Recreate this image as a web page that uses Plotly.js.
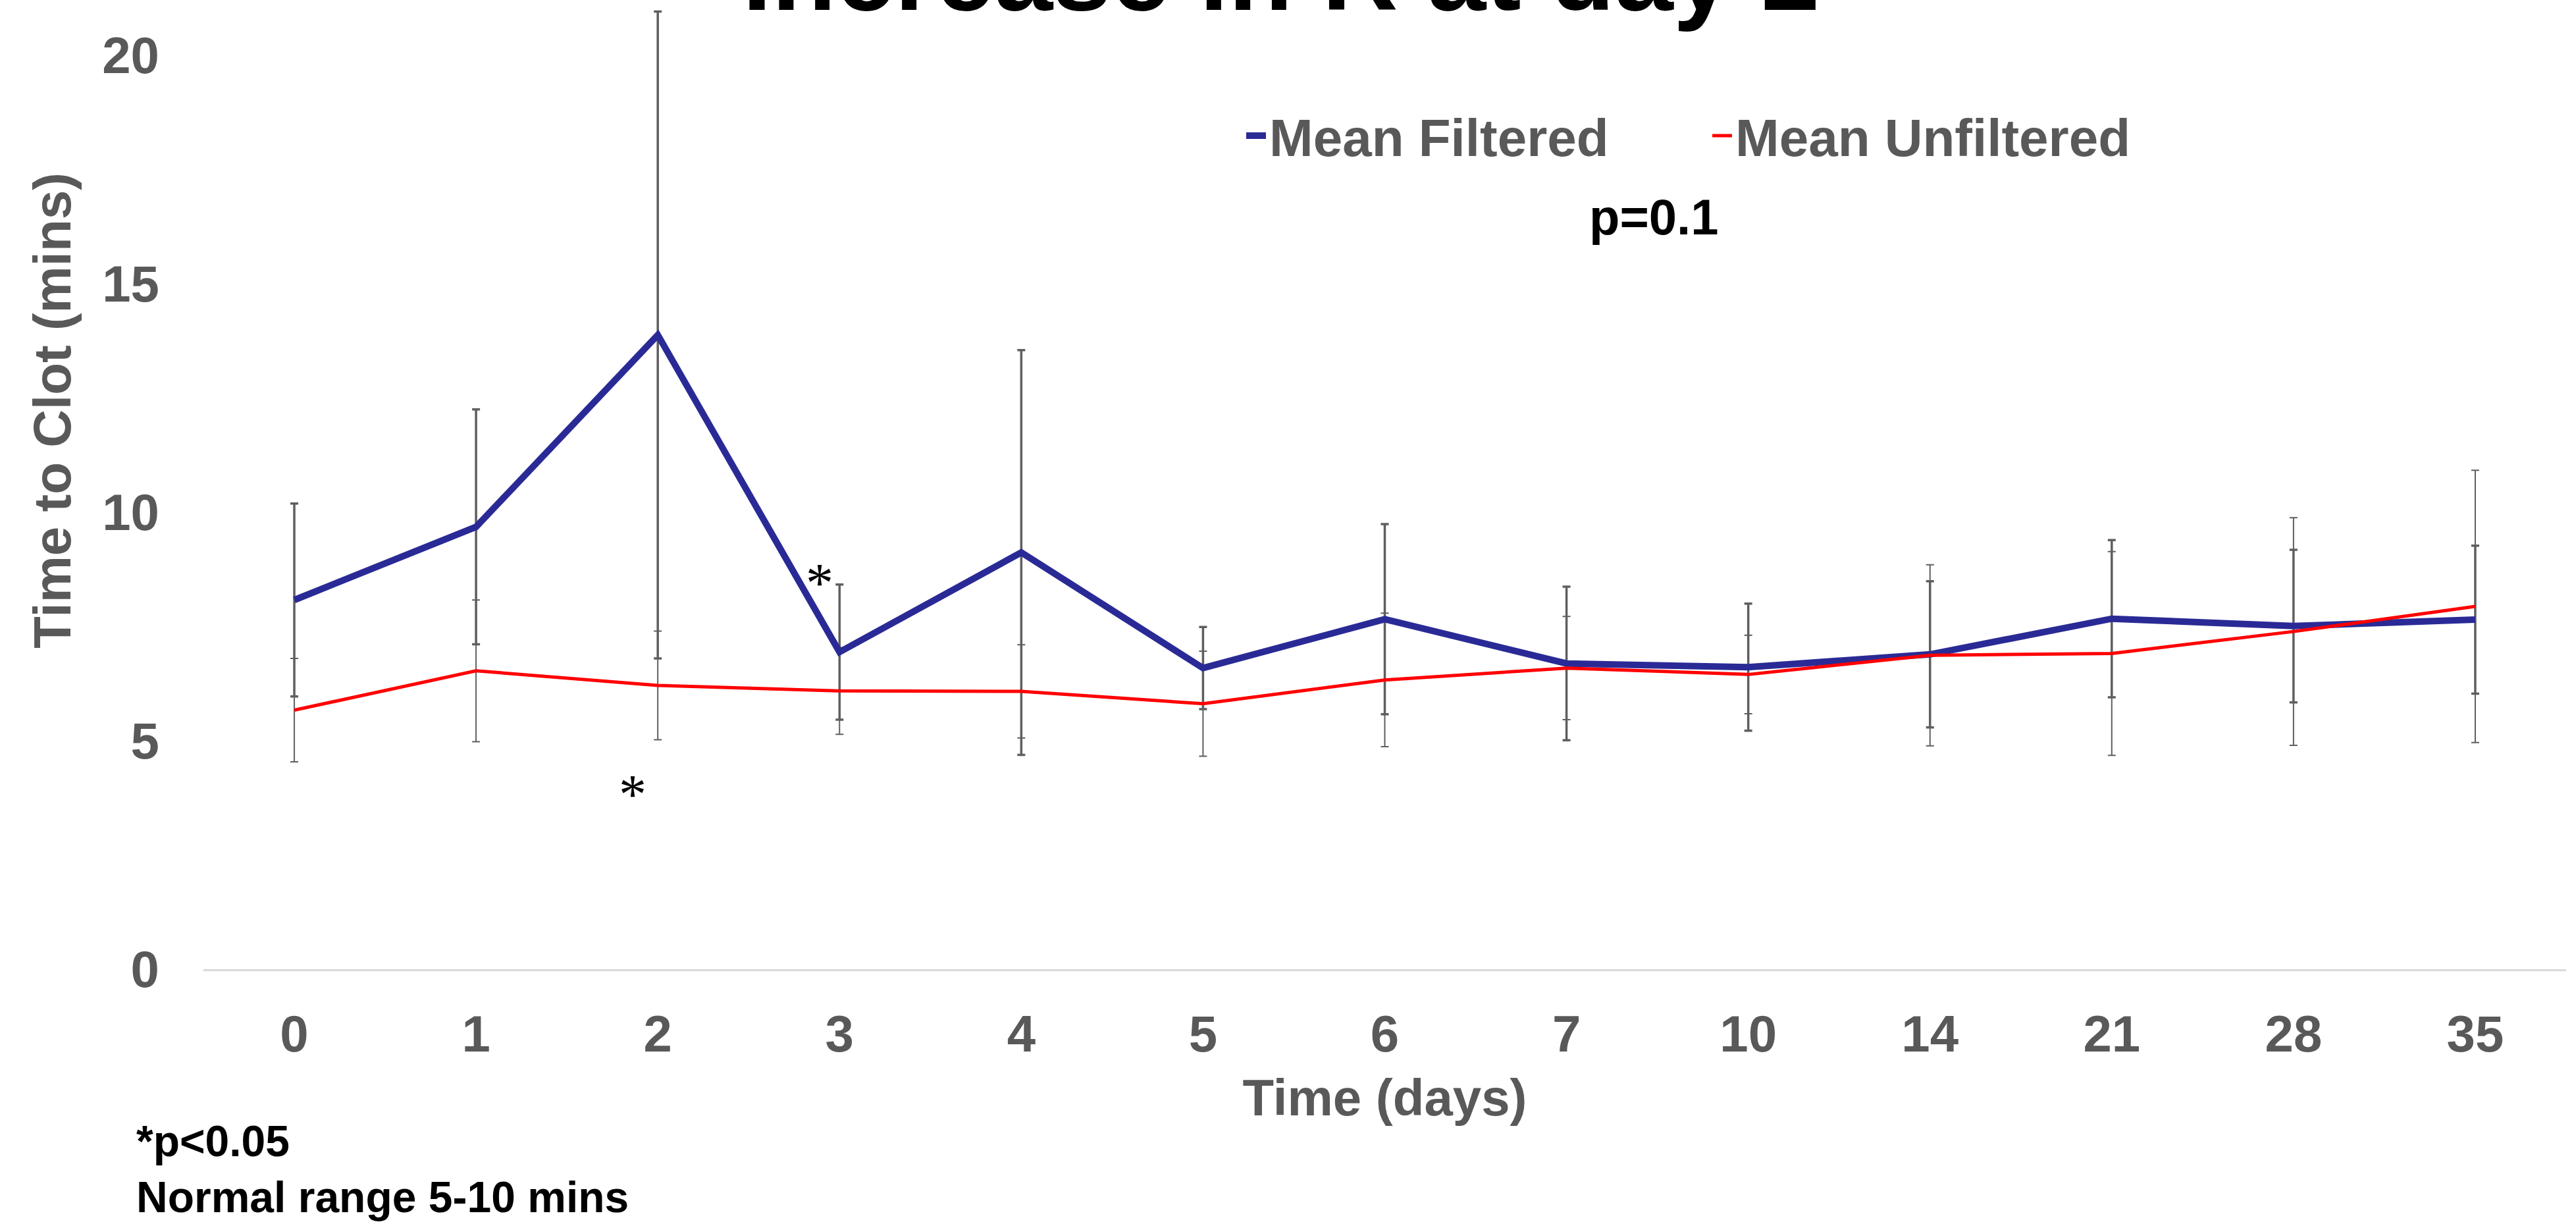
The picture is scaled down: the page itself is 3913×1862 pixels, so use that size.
<!DOCTYPE html>
<html>
<head>
<meta charset="utf-8">
<script src="https://cdn.plot.ly/plotly-3.0.1.min.js"></script>
<style>
  html, body { margin: 0; padding: 0; background: #ffffff; }
  #chart { width: 3913px; height: 1862px; }
</style>
</head>
<body>
<div id="chart"></div>
<script>
// ---- data ----
const days = ['0', '1', '2', '3', '4', '5', '6', '7', '10', '14', '21', '28', '35'];
const meanFiltered   = [8.08, 9.68, 13.88, 6.94, 9.12, 6.59, 7.66, 6.69, 6.61, 6.89, 7.67, 7.51, 7.65];
const errFiltered    = [2.11, 2.57, 7.08, 1.48, 4.43, 0.90, 2.08, 1.68, 1.39, 1.60, 1.72, 1.67, 1.62];
const meanUnfiltered = [5.67, 6.53, 6.21, 6.09, 6.08, 5.81, 6.33, 6.59, 6.45, 6.87, 6.91, 7.39, 7.94];
const errUnfiltered  = [1.13, 1.55, 1.19, 0.95, 1.02, 1.15, 1.46, 1.13, 0.86, 1.98, 2.23, 2.49, 2.98];
const yTicks = [0, 5, 10, 15, 20];
const seriesNames = ['Mean Filtered', 'Mean Unfiltered'];
const titleText = 'Increase in R at day 2';
const xTitle = 'Time (days)';
const yTitle = 'Time to Clot (mins)';
const pText = 'p=0.1';
const footnotes = ['*p<0.05', 'Normal range 5-10 mins'];
// asterisk markers: [category index, value]
const sigMarks = [[2.89, 8.45], [1.86, 3.82]];

// ---- styles ----
const BLUE = '#2a2a96';
const RED = '#ff0000';
const ERR = '#5f5f5f';
const GRAY = '#595959';
const FONT = 'Liberation Sans, Arial, sans-serif';

const traces = [
  { x: days, y: meanFiltered, type: 'scatter', mode: 'none', showlegend: false, hoverinfo: 'skip',
    error_y: { type: 'data', array: errFiltered, visible: true, color: ERR, thickness: 3.5, width: 6 } },
  { x: days, y: meanUnfiltered, type: 'scatter', mode: 'none', showlegend: false, hoverinfo: 'skip',
    error_y: { type: 'data', array: errUnfiltered, visible: true, color: ERR, thickness: 2, width: 6 } },
  { x: days, y: meanFiltered, type: 'scatter', mode: 'lines', name: seriesNames[0],
    line: { color: BLUE, width: 10 }, legend: 'legend' },
  { x: days, y: meanUnfiltered, type: 'scatter', mode: 'lines', name: seriesNames[1],
    line: { color: RED, width: 5 }, legend: 'legend2' }
];

const W = 3913, H = 1862;
const mL = 309, mR = 15, mT = 8, mB = 390;
const pw = W - mL - mR, ph = H - mT - mB;
const px2x = p => (p - mL) / pw;
const py2y = p => (H - mB - p) / ph;

const annotations = [
  { text: yTitle, xref: 'paper', yref: 'paper', x: px2x(79), y: py2y(624), textangle: -90,
    showarrow: false, xanchor: 'center', yanchor: 'middle',
    font: { family: FONT, size: 80, color: GRAY, weight: 'bold' } },
  { text: pText, xref: 'paper', yref: 'paper', x: px2x(2512), y: py2y(330),
    showarrow: false, xanchor: 'center', yanchor: 'middle',
    font: { family: FONT, size: 76, color: '#000000', weight: 'bold' } },
  { text: footnotes[0], xref: 'paper', yref: 'paper', x: px2x(205), y: py2y(1733),
    showarrow: false, xanchor: 'left', yanchor: 'middle',
    font: { family: FONT, size: 66, color: '#000000', weight: 'bold' } },
  { text: footnotes[1], xref: 'paper', yref: 'paper', x: px2x(205), y: py2y(1818),
    showarrow: false, xanchor: 'left', yanchor: 'middle',
    font: { family: FONT, size: 66, color: '#000000', weight: 'bold' } }
];
sigMarks.forEach(m => annotations.push({
  text: '*', xref: 'x', yref: 'y', x: m[0], y: m[1], showarrow: false,
  xanchor: 'center', yanchor: 'middle',
  font: { family: 'Liberation Serif, Times New Roman, serif', size: 84, color: '#000000' }
}));

const layout = {
  width: W, height: H,
  margin: { l: mL, r: mR, t: mT, b: mB, pad: 0 },
  paper_bgcolor: '#ffffff', plot_bgcolor: '#ffffff',
  font: { family: FONT, color: GRAY },
  title: { text: titleText, xref: 'container', yref: 'container', x: 1946 / W, xanchor: 'center',
           y: 1 - 15 / H, yanchor: 'bottom',
           font: { family: FONT, size: 160, color: '#000000', weight: 'bold' } },
  xaxis: {
    type: 'category', categoryorder: 'array', categoryarray: days, range: [-0.5, 12.5],
    showgrid: false, zeroline: false, showline: true, linecolor: '#d9d9d9', linewidth: 3,
    ticks: '', ticklabelstandoff: 28,
    tickfont: { family: FONT, size: 78, color: GRAY, weight: 'bold' },
    title: { text: xTitle, standoff: 27, font: { family: FONT, size: 78, color: GRAY, weight: 'bold' } },
    fixedrange: true
  },
  yaxis: {
    range: [0, ph / 69.4], tickmode: 'array', tickvals: yTicks,
    showgrid: false, zeroline: false, showline: false, ticks: '', ticklabelstandoff: 66,
    tickfont: { family: FONT, size: 78, color: GRAY, weight: 'bold' },
    fixedrange: true
  },
  showlegend: true,
  legend: { orientation: 'h', x: px2x(1888), xanchor: 'left', y: py2y(206), yanchor: 'middle',
            bgcolor: 'rgba(0,0,0,0)', borderwidth: 0,
            font: { family: FONT, size: 80, color: GRAY, weight: 'bold' } },
  legend2: { orientation: 'h', x: px2x(2596), xanchor: 'left', y: py2y(206), yanchor: 'middle',
            bgcolor: 'rgba(0,0,0,0)', borderwidth: 0,
            font: { family: FONT, size: 80, color: GRAY, weight: 'bold' } },
  annotations: annotations
};

Plotly.newPlot('chart', traces, layout, { displayModeBar: false, staticPlot: true });
</script>
</body>
</html>
